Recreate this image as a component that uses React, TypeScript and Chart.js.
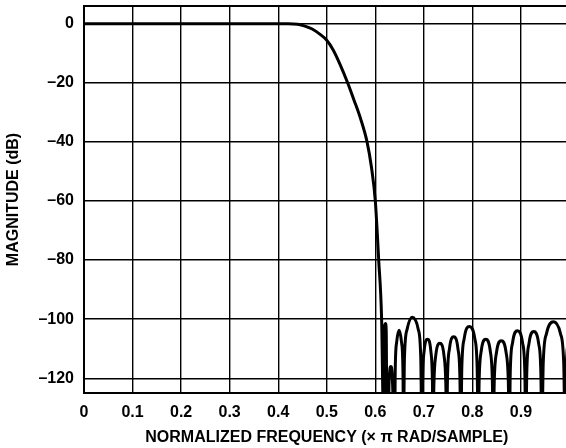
import React, { useEffect, useRef } from "react";
import { Chart, registerables } from "chart.js";

Chart.register(...registerables);

// Normalized frequency (× π rad/sample)
const freq = [
  0, 0.1, 0.2, 0.3, 0.4, 0.42, 0.44, 0.455, 0.47, 0.487, 0.5, 0.513, 0.528, 0.543, 0.556, 0.569, 0.583, 0.592, 0.6, 0.607, 0.613, 0.6175,
  0.6185, 0.6195, 0.621, 0.6225, 0.624,
  0.627, 0.628, 0.6295, 0.632, 0.6345, 0.636, 0.638,
  0.64, 0.641, 0.644, 0.649, 0.654, 0.657, 0.658,
  0.66, 0.6656, 0.676, 0.6884, 0.6937, 0.696,
  0.6974, 0.7006, 0.7075, 0.7144, 0.7176, 0.719,
  0.7207, 0.7246, 0.733, 0.7414, 0.7453, 0.747,
  0.7487, 0.7528, 0.7615, 0.7702, 0.7743, 0.776,
  0.7782, 0.7832, 0.794, 0.8048, 0.8098, 0.812,
  0.8139, 0.8182, 0.8275, 0.8368, 0.8411, 0.843,
  0.845, 0.8496, 0.8595, 0.8694, 0.874, 0.876,
  0.878, 0.8828, 0.893, 0.9032, 0.908, 0.91,
  0.912, 0.9166, 0.9265, 0.9364, 0.941, 0.943,
  0.9459, 0.9526, 0.967, 0.9814, 0.9881, 0.991,
  0.993, 0.997, 1.0,
];

// Magnitude (dB)
const magDb = [
  0, 0, 0, 0, 0, 0, -0.2, -0.8, -1.8, -3.7, -5.6, -8.8, -14, -20, -25.8, -31.8, -40, -48.5, -60, -80, -100, -140,
  -112, -102, -101.5, -104, -140,
  -140, -124, -118, -116, -118, -124, -140,
  -140, -117.8, -107.8, -103.8, -107.8, -117.8, -140,
  -113.4, -103.4, -99.4, -103.4, -113.4, -140,
  -120.8, -110.8, -106.8, -110.8, -120.8, -140,
  -122.2, -112.2, -108.2, -112.2, -122.2, -140,
  -120, -110, -106, -110, -120, -140,
  -116.5, -106.5, -102.5, -106.5, -116.5, -140,
  -120.8, -110.8, -106.8, -110.8, -120.8, -140,
  -121.3, -111.3, -107.3, -111.3, -121.3, -140,
  -117.9, -107.9, -103.9, -107.9, -117.9, -140,
  -118.2, -108.2, -104.2, -108.2, -118.2, -140,
  -114.9, -104.9, -100.9, -104.9, -114.9, -140,
  -118, -108, -105,
];

const xTickValues = [0, 0.1, 0.2, 0.3, 0.4, 0.5, 0.6, 0.7, 0.8, 0.9, 1.0];
const yTickValues = [-120, -100, -80, -60, -40, -20, 0];

const xTitle = "NORMALIZED FREQUENCY (× π RAD/SAMPLE)";
const yTitle = "MAGNITUDE (dB)";

const FONT = "'Liberation Sans', Arial, Helvetica, sans-serif";

const framePlugin = {
  id: "frame",
  afterDraw(chart: any) {
    const { ctx, chartArea } = chart;
    const { left, top, right, bottom } = chartArea;
    ctx.save();
    ctx.strokeStyle = "#000";
    ctx.lineWidth = 2;
    ctx.strokeRect(left, top, right - left, bottom - top);
    ctx.restore();
  },
};

export default function App() {
  const canvasRef = useRef<HTMLCanvasElement | null>(null);

  useEffect(() => {
    if (!canvasRef.current) return;
    const points = freq.map((f, i) => ({ x: f, y: magDb[i] }));
    const chart = new Chart(canvasRef.current, {
      type: "line",
      data: {
        datasets: [
          {
            data: points,
            borderColor: "#000",
            borderWidth: 3,
            pointRadius: 0,
            fill: false,
            cubicInterpolationMode: "monotone",
          },
        ],
      },
      plugins: [framePlugin],
      options: {
        animation: false,
        responsive: false,
        devicePixelRatio: 1,
        layout: { padding: { top: 6, right: 2.5, left: 0, bottom: 0 } },
        plugins: { legend: { display: false }, tooltip: { enabled: false } },
        scales: {
          x: {
            type: "linear",
            min: 0,
            max: 1,
            afterBuildTicks: (axis: any) => {
              axis.ticks = xTickValues.map((v) => ({ value: v }));
            },
            afterFit: (scale: any) => {
              scale.height = 55;
              scale.paddingLeft = 0;
              scale.paddingRight = 0;
            },
            ticks: {
              autoSkip: false,
              maxRotation: 0,
              padding: 10,
              color: "#000",
              font: { family: FONT, size: 16, weight: "bold" },
              callback: (v: any) => (v === 0 ? "0" : v >= 1 ? "" : Number(v).toFixed(1)),
            },
            grid: { color: "#000", lineWidth: 1.4, drawTicks: false },
            border: { display: false },
            title: {
              display: true,
              text: xTitle,
              color: "#000",
              font: { family: FONT, size: 16, weight: "bold" },
              padding: { top: 4, bottom: 1 },
            },
          },
          y: {
            type: "linear",
            min: -125,
            max: 6,
            afterBuildTicks: (axis: any) => {
              axis.ticks = yTickValues.map((v) => ({ value: v }));
            },
            afterFit: (scale: any) => {
              scale.width = 84;
              scale.paddingTop = 0;
              scale.paddingBottom = 0;
            },
            ticks: {
              padding: 10,
              color: "#000",
              font: { family: FONT, size: 16, weight: "bold" },
              callback: (v: any) => (v === 0 ? "0" : "\u2013" + Math.abs(Number(v))),
            },
            grid: { color: "#000", lineWidth: 1.4, drawTicks: false },
            border: { display: false },
            title: {
              display: true,
              text: yTitle,
              color: "#000",
              font: { family: FONT, size: 16, weight: "bold" },
              padding: { top: 4, bottom: 4 },
            },
          },
        },
      },
    });
    return () => chart.destroy();
  }, []);

  return (
    <div
      style={{
        position: "fixed",
        left: 0,
        top: 0,
        width: 566,
        height: 448,
        overflow: "hidden",
        background: "#fff",
      }}
    >
      <canvas ref={canvasRef} width={572} height={448} style={{ width: 572, height: 448, display: "block" }} />
    </div>
  );
}
